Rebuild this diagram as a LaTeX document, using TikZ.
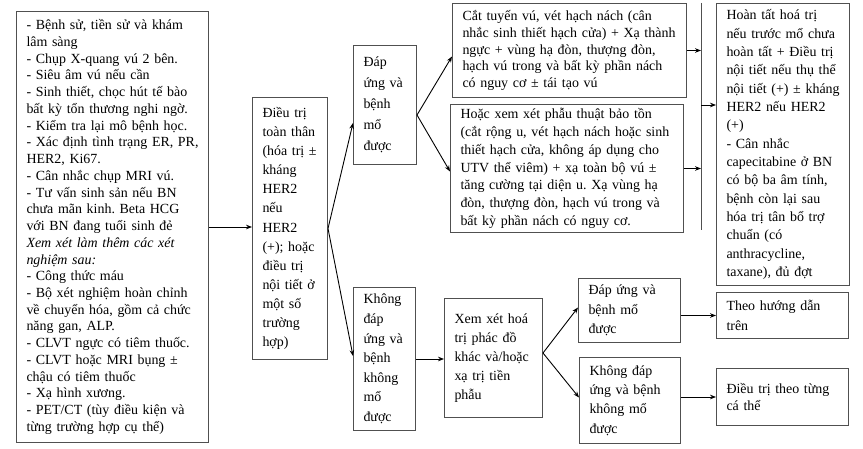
\documentclass[tikz,border=0pt]{standalone}
\usepackage{fontspec}
\setmainfont{Liberation Serif}
\usetikzlibrary{arrows.meta,calc}
\frenchspacing
\definecolor{boxline}{RGB}{80,80,80}
\tikzset{
  box/.style={draw=boxline, line width=1bp, anchor=north west, inner xsep=0pt, inner ysep=0pt,
    align=left, execute at begin node={\leftskip=10bp\frenchspacing}},
  fA/.style={font=\fontsize{14}{16.8}\selectfont},
  fB/.style={font=\fontsize{14}{19.2}\selectfont},
  arr/.style={draw=black, line width=0.9bp, -{Stealth[length=6bp,width=4.6bp]}},
  plain/.style={draw=boxline, line width=1bp}
}
\begin{document}
\begin{tikzpicture}[x=1bp,y=-1bp]
\useasboundingbox (0,0) rectangle (863,449);
\fill[white] (0,0) rectangle (863,449);

\node[box,fA,text width=192bp,minimum width=192bp,minimum height=431bp] (A) at (16,11)
{- Bệnh sử, tiền sử và khám\\
lâm sàng\\
- Chụp X-quang vú 2 bên.\\
- Siêu âm vú nếu cần\\
- Sinh thiết, chọc hút tế bào\\
bất kỳ tổn thương nghi ngờ.\\
- Kiểm tra lại mô bệnh học.\\
- Xác định tình trạng ER, PR,\\
HER2, Ki67.\\
- Cân nhắc chụp MRI vú.\\
- Tư vấn sinh sản nếu BN\\
chưa mãn kinh. Beta HCG\\
với BN đang tuổi sinh đẻ\\
\textit{Xem xét làm thêm các xét}\\
\textit{nghiệm sau:}\\
- Công thức máu\\
- Bộ xét nghiệm hoàn chỉnh\\
về chuyển hóa, gồm cả chức\\
năng gan, ALP.\\
- CLVT ngực có tiêm thuốc.\\
- CLVT hoặc MRI bụng ±\\
chậu có tiêm thuốc\\
- Xạ hình xương.\\
- PET/CT (tùy điều kiện và\\
từng trường hợp cụ thể)};

\node[box,fB,text width=75bp,minimum width=75bp,minimum height=262bp] (B) at (252,97)
{Điều trị\\ toàn thân\\ (hóa trị ±\\ kháng\\ HER2\\ nếu\\ HER2\\ (+); hoặc\\ điều trị\\ nội tiết ở\\ một số\\ trường\\ hợp)};

\node[box,font=\fontsize{14}{21}\selectfont,text width=63bp,minimum width=63bp,minimum height=119bp] (C) at (353,45)
{Đáp\\ ứng và\\ bệnh\\ mổ\\ được};

\node[box,font=\fontsize{14}{19.7}\selectfont,text width=62bp,minimum width=62bp,minimum height=143bp] (D) at (353,287)
{Không\\ đáp\\ ứng và\\ bệnh\\ không\\ mổ\\ được};

\node[box,fA,text width=234bp,minimum width=234bp,minimum height=94bp] (E) at (452,3)
{Cắt tuyến vú, vét hạch nách (cân\\
nhắc sinh thiết hạch cửa) + Xạ thành\\
ngực + vùng hạ đòn, thượng đòn,\\
hạch vú trong và bất kỳ phần nách\\
có nguy cơ ± tái tạo vú};

\node[box,font=\fontsize{14}{17.8}\selectfont,text width=233bp,minimum width=233bp,minimum height=128bp] (F) at (450,104)
{Hoặc xem xét phẫu thuật bảo tồn\\
(cắt rộng u, vét hạch nách hoặc sinh\\
thiết hạch cửa, không áp dụng cho\\
UTV thể viêm) + xạ toàn bộ vú ±\\
tăng cường tại diện u. Xạ vùng hạ\\
đòn, thượng đòn, hạch vú trong và\\
bất kỳ phần nách có nguy cơ.};

\node[box,font=\fontsize{14}{18.4}\selectfont,text width=133bp,minimum width=133bp,minimum height=282bp] (G) at (716,3)
{Hoàn tất hoá trị\\
nếu trước mổ chưa\\
hoàn tất + Điều trị\\
nội tiết nếu thụ thể\\
nội tiết (+) ± kháng\\
HER2 nếu HER2\\
(+)\\
- Cân nhắc\\
capecitabine ở BN\\
có bộ ba âm tính,\\
bệnh còn lại sau\\
hóa trị tân bổ trợ\\
chuẩn (có\\
anthracycline,\\
taxane), đủ đợt};

\node[box,font=\fontsize{14}{20}\selectfont,text width=132bp,minimum width=132bp,minimum height=46bp] (H) at (716,292)
{Theo hướng dẫn\\ trên};

\node[box,font=\fontsize{14}{18}\selectfont,text width=132bp,minimum width=132bp,minimum height=57bp] (I) at (716,368)
{Điều trị theo từng\\ cá thể};

\node[box,font=\fontsize{14}{19}\selectfont,text width=98bp,minimum width=98bp,minimum height=119bp] (J) at (444,298)
{Xem xét hoá\\ trị phác đồ\\ khác và/hoặc\\ xạ trị tiền\\ phẫu};

\node[box,font=\fontsize{14}{19.5}\selectfont,text width=102bp,minimum width=102bp,minimum height=64bp] (K) at (578,278)
{Đáp ứng và\\ bệnh mổ\\ được};

\node[box,font=\fontsize{14}{19.3}\selectfont,text width=101bp,minimum width=101bp,minimum height=86bp] (L) at (579,357)
{Không đáp\\ ứng và bệnh\\ không mổ\\ được};

\coordinate (bartop) at (701,3);
\coordinate (barbot) at (701,230);
\coordinate (barout) at (701,105);

% connectors
\draw[arr] (A.east) -- (A.east -| B.west);
\draw[arr] (B.east) -- ([yshift=-18bp]C.west);
\draw[arr] (B.east) -- ([yshift=3bp]D.west);
\draw[arr] ([yshift=-10bp]C.east) -- ([yshift=-6bp]E.west);
\draw[arr] ([yshift=-10bp]C.east) -- ([yshift=-3bp]F.west);
\draw[plain] (bartop) -- (barbot);
\draw[arr] (E.east) -- (E.east -| bartop);
\draw[arr] (F.east) -- (F.east -| bartop);
\draw[arr] (barout) -- (barout -| G.west);
\draw[arr] (D.east) -- (D.east -| J.west);
\draw[arr] ([yshift=5bp]J.east) -- ([yshift=3bp]K.west);
\draw[arr] ([yshift=5bp]J.east) -- ([yshift=3bp]L.west);
\draw[arr] (K.east |- H.west) -- (H.west);
\draw[arr] (L.east |- I.west) -- (I.west);
\end{tikzpicture}
\end{document}
